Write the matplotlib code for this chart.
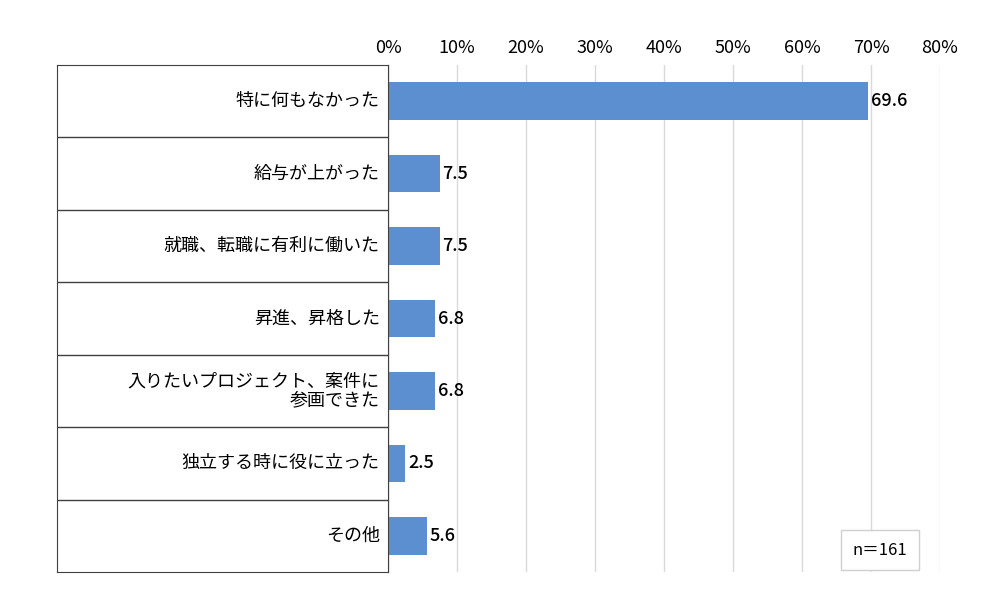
import matplotlib
matplotlib.use("Agg")
import matplotlib.pyplot as plt

plt.rcParams['font.family'] = ['Noto Sans CJK JP', 'DejaVu Sans']

categories = ["特に何もなかった", "給与が上がった", "就職、転職に有利に働いた", "昇進、昇格した",
              "入りたいプロジェクト、案件に\n参画できた", "独立する時に役に立った", "その他"]
values = [69.6, 7.5, 7.5, 6.8, 6.8, 2.5, 5.6]
ticks = [0, 10, 20, 30, 40, 50, 60, 70, 80]

fig = plt.figure(figsize=(10, 6.11), dpi=100)
top = 1 - 65/611
bot = 1 - 572/611
ax = fig.add_axes([0.388, bot, 0.552, top - bot])
n = len(categories)
ypos = list(range(n))
ax.barh(ypos, values, height=0.52, color='#5B8FD0', zorder=3)
ax.set_ylim(n - 0.5, -0.5)
ax.set_xlim(0, 80)
ax.set_xticks(ticks)
ax.set_xticklabels([f"{t}%" for t in ticks], fontsize=13)
ax.xaxis.tick_top()
ax.tick_params(axis='x', length=0, pad=6)
ax.set_yticks([])
ax.grid(axis='x', color='#d9d9d9', linewidth=1, zorder=0)
for s in ['top', 'right', 'bottom']:
    ax.spines[s].set_visible(False)
ax.spines['left'].set_color('#404040')
for y, v in zip(ypos, values):
    ax.text(v + 0.4, y, f"{v}", va='center', ha='left', fontsize=13, fontweight='medium', zorder=4)
ax.text(71.3, 6.2, "n＝161", ha='center', va='center', fontsize=12,
        bbox=dict(boxstyle='square,pad=0.7', fc='white', ec='#d0d0d0'))

lax = fig.add_axes([0.057, bot, 0.388 - 0.057, top - bot])
lax.set_xlim(0, 1)
lax.set_ylim(n - 0.5, -0.5)
lax.set_xticks([]); lax.set_yticks([])
for s in lax.spines.values():
    s.set_color('#404040')
for i in range(1, n):
    lax.axhline(i - 0.5, color='#404040', linewidth=1)
for y, c in zip(ypos, categories):
    lax.text(0.975, y, c, ha='right', va='center', fontsize=13, linespacing=1.05)

fig.savefig("out.png", dpi=100)
